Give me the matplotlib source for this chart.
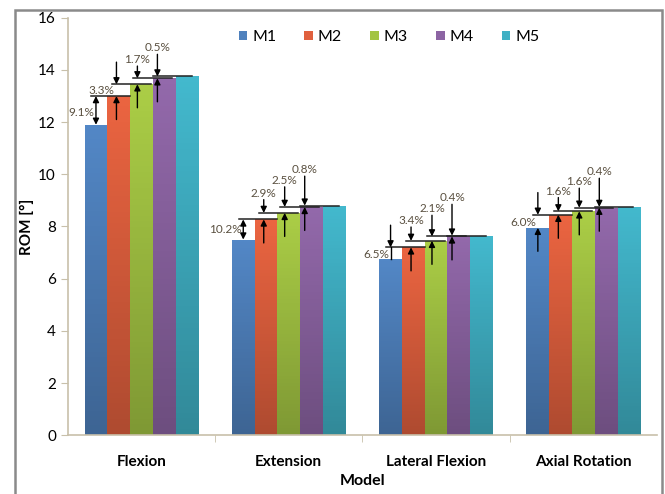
import numpy as np
import matplotlib
matplotlib.use("Agg")
from matplotlib import pyplot as plt
from matplotlib.colors import to_rgb
from matplotlib.patches import Rectangle

plt.rcParams['font.family'] = ['Lato', 'DejaVu Sans']

# data
categories = ["Flexion", "Extension", "Lateral Flexion", "Axial Rotation"]
models = ["M1", "M2", "M3", "M4", "M5"]
m1 = [11.90, 7.50, 6.75, 7.95]
m2 = [13.00, 8.27, 7.20, 8.45]
m3 = [13.45, 8.52, 7.45, 8.58]
m4 = [13.68, 8.75, 7.62, 8.72]
m5 = [13.75, 8.80, 7.65, 8.75]
pct_flexion = ["9.1%", "3.3%", "1.7%", "0.5%"]
pct_extension = ["10.2%", "2.9%", "2.5%", "0.8%"]
pct_lateral = ["6.5%", "3.4%", "2.1%", "0.4%"]
pct_axial = ["6.0%", "1.6%", "1.6%", "0.4%"]

series = [m1, m2, m3, m4, m5]
pcts = [pct_flexion, pct_extension, pct_lateral, pct_axial]
colors = ["#4F81BD", "#E0603E", "#A3C443", "#8C64A3", "#40B0C4"]

# annotation layout (label offset above upper level, label left of arrow?, arrow kind)
label_dy = [[-0.62, -0.25, 0.72, 1.10],
            [-0.40, 0.76, 1.02, 1.38],
            [-0.28, 0.78, 1.06, 1.45],
            [-0.29, 0.78, 1.00, 1.35]]
label_left = [[True, True, False, False],
              [True, False, False, False],
              [True, False, False, False],
              [True, False, False, False]]
arrow_kind = [["double", "outside", "outside", "outside"],
              ["double", "outside", "outside", "outside"],
              ["down", "outside", "outside", "outside"],
              ["outside", "outside", "outside", "outside"]]
arrow_shift = [0.0, -0.1, -0.18, -0.3]

fig = plt.figure(figsize=(6.65, 4.94), dpi=100)
ax = fig.add_axes([0.102, 0.119, 0.886, 0.845])

x = np.arange(len(categories))
w = 0.1545
for i, vals in enumerate(series):
    pos = x + (i - 2) * w
    bars = ax.bar(pos, vals, w, color=colors[i], label=models[i], zorder=2)
    base = np.array(to_rgb(colors[i]))
    grad = np.linspace(0.78, 1.05, 64)[:, None, None] * base[None, None, :]
    grad = np.clip(grad, 0, 1)
    for b in bars:
        im = ax.imshow(grad, extent=(b.get_x(), b.get_x() + w, 0, b.get_height()),
                       origin='lower', aspect='auto', zorder=2.1)
        im.set_clip_path(b)

# difference annotations
akw = dict(arrowstyle='-|>', lw=1.0, color='black', mutation_scale=9, shrinkA=0, shrinkB=0)
for c in range(len(categories)):
    for k in range(4):
        lower = series[k][c]
        upper = series[k + 1][c]
        ax_x = x[c] + (k - 2) * w + arrow_shift[k] * w
        ax.plot([ax_x - 0.2 * w, ax_x + 1.5 * w], [upper, upper], color='#222222', lw=1.1, zorder=4)
        kind = arrow_kind[c][k]
        ty = upper + label_dy[c][k]
        if kind == "double":
            ax.annotate('', xy=(ax_x, upper), xytext=(ax_x, lower),
                        arrowprops=dict(akw, arrowstyle='<|-|>'), zorder=5)
        else:
            top = upper + 0.85 if label_left[c][k] else ty - 0.25
            ax.annotate('', xy=(ax_x, upper), xytext=(ax_x, top), arrowprops=akw, zorder=5)
            if kind == "outside":
                ax.annotate('', xy=(ax_x, lower), xytext=(ax_x, lower - 0.9),
                            arrowprops=akw, zorder=5)
            else:
                ax.plot([ax_x, ax_x], [lower, upper], color='black', lw=1.0, zorder=4)
        if label_left[c][k]:
            ax.text(ax_x - 0.012, ty, pcts[c][k], ha='right', va='center',
                    fontsize=8.5, color='#5a5040', zorder=6)
        else:
            ax.text(ax_x, ty, pcts[c][k], ha='center', va='center',
                    fontsize=8.5, color='#5a5040', zorder=6)

ax.set_xlim(-0.5, 3.5)
ax.set_ylim(0, 16)
ax.set_yticks(range(0, 17, 2))
ax.set_xticks(x)
ax.set_xticklabels(categories, fontsize=11, fontweight='bold')
ax.set_xticks(np.arange(0.5, 3.5, 1), minor=True)
ax.tick_params(axis='x', which='major', length=0, pad=14)
ax.tick_params(axis='x', which='minor', length=5, color='#c8c0aa')
ax.tick_params(axis='y', labelsize=11, length=5, color='#c8c0aa')
for s in ['top', 'right']:
    ax.spines[s].set_visible(False)
for s in ['left', 'bottom']:
    ax.spines[s].set_color('#c8c0aa')
    ax.spines[s].set_linewidth(1.2)
ax.set_ylabel("ROM [°]", fontsize=11, fontweight='bold', labelpad=3)
ax.set_xlabel("Model", fontsize=11.5, fontweight='bold', labelpad=4)

leg = ax.legend(loc='upper center', bbox_to_anchor=(0.545, 1.005), ncol=5, frameon=False,
                fontsize=11.5, handlelength=0.55, handleheight=0.55, handletextpad=0.3,
                columnspacing=1.75)

# outer chart border
fig.patches.append(Rectangle((15 / 665, -0.05), 647 / 665, 1 - 10 / 494 + 0.05,
                             transform=fig.transFigure, fill=False,
                             edgecolor='#8a8a8a', lw=1.8))

fig.savefig("out.png", dpi=100)
